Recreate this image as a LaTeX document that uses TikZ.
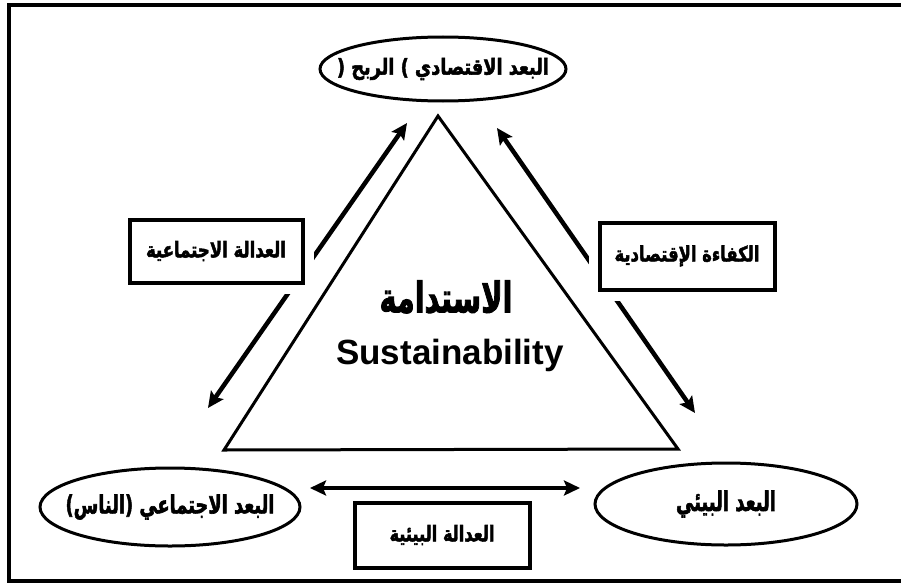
\documentclass[tikz,border=0pt]{standalone}
\usepackage{fontspec}
\usepackage{graphicx}
\setmainfont{Liberation Sans}
\newfontfamily\ar[Script=Arabic, BoldFeatures={FakeBold=2.5}]{DejaVu Sans}
\TeXXeTstate=1
\usetikzlibrary{arrows.meta,shapes.geometric}
\newcommand\arw[3]{\resizebox*{#1}{#2}{\ar\bfseries\beginR #3\endR}}
\tikzset{
  ell/.style={ellipse, draw, line width=3pt, fill=white, inner sep=0pt},
  lbox/.style={rectangle, draw, line width=4pt, fill=white, inner sep=0pt,
    preaction={draw=white, line width=22pt}},
  arr/.style={line width=4.5pt, {Stealth[length=16pt,width=15pt,inset=3pt]}-{Stealth[length=16pt,width=15pt,inset=3pt]}},
  tri/.style={line width=3pt, line join=miter}
}
\begin{document}
\begin{tikzpicture}[x=1pt,y=-1pt]
\useasboundingbox (0,0) rectangle (901,586);
\fill[white] (0,0) rectangle (901,586);
% frame
\draw[line width=4pt] (905,5) -- (9,5) -- (9,581) -- (905,581);
% triangle
\coordinate (apex) at (438,116);
\coordinate (tbl) at (224,450);
\coordinate (tbr) at (678,449);
\draw[tri] (apex) -- (tbl) -- (tbr) -- cycle;
% center text
\node (ar) at (446,297) {\arw{133pt}{33pt}{الاستدامة}};
\node[font=\bfseries\fontsize{35}{40}\selectfont] (en) at (450,355) {Sustainability};
% ellipses
\node[ell, minimum width=246pt, minimum height=64pt] (top) at (443,69) {};
\node (toptxt) at (top.center) {\arw{212pt}{22pt}{البعد الاقتصادي ) الربح (}};
\node[ell, minimum width=260pt, minimum height=78pt] (bl) at (170,507) {};
\node (bltxt) at (bl.center) {\arw{209pt}{25pt}{البعد الاجتماعي (الناس)}};
\node[ell, minimum width=262pt, minimum height=82pt] (br) at (726,504) {};
\node (brtxt) at (br.center) {\arw{100pt}{27pt}{البعد البيئي}};
% arrow ends
\coordinate (l1) at (208,408);
\coordinate (l2) at (407,123);
\coordinate (r1) at (497,128);
\coordinate (r2) at (695,413);
\coordinate (b1) at (310,488);
\coordinate (b2) at (580,488);
\draw[arr] (l1) -- (l2);
\draw[arr] (r1) -- (r2);
\draw[arr] (b1) -- (b2);
% boxes
\node[lbox, minimum width=173pt, minimum height=63pt] (social) at (216,251) {\arw{140pt}{20pt}{العدالة الاجتماعية}};
\node[lbox, minimum width=175pt, minimum height=67pt] (econ) at (687,256) {\arw{145pt}{21pt}{الكفاءة الإقتصادية}};
\node[lbox, minimum width=175pt, minimum height=65pt] (env) at (442,535) {\arw{105pt}{20pt}{العدالة البيئية}};
\end{tikzpicture}
\end{document}
